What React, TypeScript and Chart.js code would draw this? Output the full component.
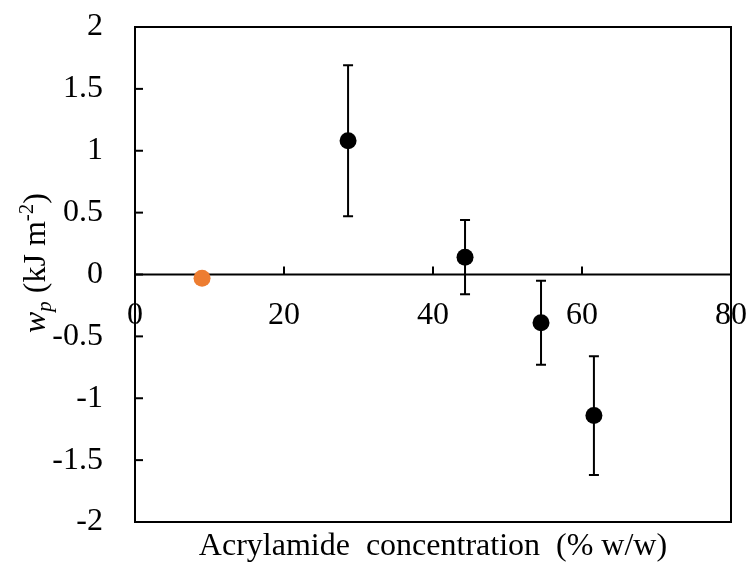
import { useEffect, useRef } from "react";
import { Chart, registerables } from "chart.js";

Chart.register(...registerables);

// Control (orange) point
const controlConcentration = [9.0];
const controlWp = [-0.03];

// Acrylamide series (black) with symmetric error bars
const concentrations = [28.6, 44.3, 54.5, 61.6];
const wpValues = [1.08, 0.14, -0.39, -1.14];
const wpErrors = [0.61, 0.3, 0.34, 0.48];

const xTickValues = [0, 20, 40, 60, 80];
const yTickValues = [-2, -1.5, -1, -0.5, 0, 0.5, 1, 1.5, 2];

const xTitle = "Acrylamide  concentration  (% w/w)";

const FONT = "'Liberation Serif', 'Times New Roman', serif";
const FS = 32;

const customPlugin = {
  id: "customAxes",
  beforeDatasetsDraw(chart: any) {
    const { ctx } = chart;
    const xs = chart.scales.x;
    const ys = chart.scales.y;
    const ca = chart.chartArea;
    ctx.save();
    ctx.strokeStyle = "#000";
    ctx.lineWidth = 2;
    // frame
    ctx.strokeRect(ca.left, ca.top, ca.right - ca.left, ca.bottom - ca.top);
    // zero line
    const y0 = ys.getPixelForValue(0);
    ctx.beginPath();
    ctx.moveTo(ca.left, y0);
    ctx.lineTo(ca.right, y0);
    ctx.stroke();
    // x ticks (upwards from zero line)
    xTickValues.forEach((v) => {
      const px = xs.getPixelForValue(v);
      ctx.beginPath();
      ctx.moveTo(px, y0);
      ctx.lineTo(px, y0 - 8);
      ctx.stroke();
    });
    // y ticks (inward)
    yTickValues.forEach((v) => {
      const py = ys.getPixelForValue(v);
      ctx.beginPath();
      ctx.moveTo(ca.left, py);
      ctx.lineTo(ca.left + 8, py);
      ctx.stroke();
    });
    // x tick labels below zero line
    ctx.fillStyle = "#000";
    ctx.font = `${FS}px ${FONT}`;
    ctx.textAlign = "center";
    ctx.textBaseline = "alphabetic";
    xTickValues.forEach((v) => {
      const px = xs.getPixelForValue(v);
      ctx.fillText(String(v), px, y0 + 49);
    });
    // error bars
    ctx.lineWidth = 2;
    concentrations.forEach((c, i) => {
      const px = xs.getPixelForValue(c);
      const top = ys.getPixelForValue(wpValues[i] + wpErrors[i]);
      const bot = ys.getPixelForValue(wpValues[i] - wpErrors[i]);
      ctx.beginPath();
      ctx.moveTo(px, top);
      ctx.lineTo(px, bot);
      ctx.moveTo(px - 5, top);
      ctx.lineTo(px + 5, top);
      ctx.moveTo(px - 5, bot);
      ctx.lineTo(px + 5, bot);
      ctx.stroke();
    });
    ctx.restore();
  },
  afterDraw(chart: any) {
    const { ctx } = chart;
    const ca = chart.chartArea;
    ctx.save();
    ctx.fillStyle = "#000";
    // x title
    ctx.font = `${FS}px ${FONT}`;
    ctx.textAlign = "center";
    ctx.textBaseline = "alphabetic";
    ctx.fillText(xTitle, (ca.left + ca.right) / 2, 555);

    // y title (rotated), w_p (kJ m^-2)
    const parts = [
      { t: "w", font: `italic ${FS}px ${FONT}`, dy: 0 },
      { t: "p", font: `italic ${Math.round(FS * 0.65)}px ${FONT}`, dy: 6 },
      { t: " (kJ m", font: `${FS}px ${FONT}`, dy: 0 },
      { t: "-2", font: `${Math.round(FS * 0.65)}px ${FONT}`, dy: -12 },
      { t: ")", font: `${FS}px ${FONT}`, dy: 0 },
    ];
    let total = 0;
    parts.forEach((p) => {
      ctx.font = p.font;
      total += ctx.measureText(p.t).width;
    });
    const cx = 45;
    const cy = 263;
    ctx.translate(cx, cy);
    ctx.rotate(-Math.PI / 2);
    ctx.textAlign = "left";
    let x = -total / 2;
    parts.forEach((p) => {
      ctx.font = p.font;
      ctx.fillText(p.t, x, p.dy);
      x += ctx.measureText(p.t).width;
    });
    ctx.restore();
  },
};

export default function App() {
  const ref = useRef<HTMLCanvasElement | null>(null);
  useEffect(() => {
    if (!ref.current) return;
    const chart = new Chart(ref.current, {
      type: "scatter",
      data: {
        datasets: [
          {
            label: "control",
            data: controlConcentration.map((x, i) => ({ x, y: controlWp[i] })),
            backgroundColor: "#ED7D31",
            borderColor: "#ED7D31",
            pointRadius: 8.5,
            pointHoverRadius: 8.5,
            borderWidth: 0,
          },
          {
            label: "wp",
            data: concentrations.map((x, i) => ({ x, y: wpValues[i] })),
            backgroundColor: "#000000",
            borderColor: "#000000",
            pointRadius: 8.5,
            pointHoverRadius: 8.5,
            borderWidth: 0,
          },
        ],
      },
      options: {
        responsive: false,
        animation: false,
        layout: { padding: { left: 0, top: 27, right: 20, bottom: 43 } },
        plugins: {
          legend: { display: false },
          tooltip: { enabled: false },
        },
        scales: {
          x: {
            type: "linear",
            min: 0,
            max: 80,
            display: false,
          },
          y: {
            type: "linear",
            min: -2,
            max: 2,
            afterFit: (scale: any) => {
              scale.width = 135;
              scale.paddingTop = 0;
              scale.paddingBottom = 0;
            },
            grid: { display: false, drawTicks: false },
            border: { display: false },
            ticks: {
              stepSize: 0.5,
              padding: 32,
              color: "#000",
              font: { family: FONT, size: FS },
              callback: (v: any) => String(v),
            },
          },
        },
      },
      plugins: [customPlugin],
    });
    return () => chart.destroy();
  }, []);
  return (
    <div style={{ position: "absolute", left: 0, top: 0, width: 751, height: 565, background: "#fff" }}>
      <canvas ref={ref} width={751} height={565} />
    </div>
  );
}
